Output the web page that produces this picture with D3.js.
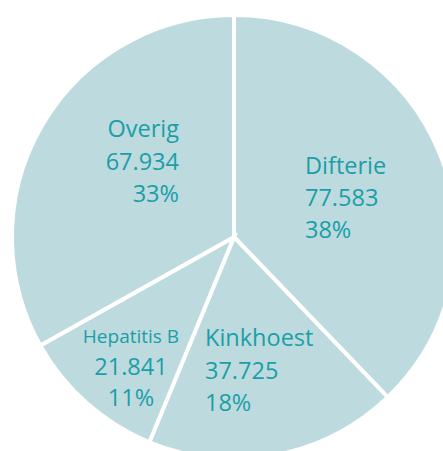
<!DOCTYPE html>
<html>
<head>
<meta charset="utf-8">
<script src="https://cdn.jsdelivr.net/npm/d3@7"></script>
<style>
  html, body { margin: 0; padding: 0; background: #fff; }
  svg { display: block; }
</style>
</head>
<body>
<svg id="chart" width="443" height="451"></svg>
<script>
const categories = ["Difterie", "Kinkhoest", "Hepatitis B", "Overig"];
const values = [77583, 37725, 21841, 67934];

// label layout (positions/styles only)
const labelLayout = {
  "Difterie":    { x: 305, y: 174, anchor: "start",  size: 23.5, gap: 32 },
  "Kinkhoest":   { x: 205, y: 346, anchor: "start",  size: 23.5, gap: 32.5 },
  "Hepatitis B": { x: 131, y: 343, anchor: "middle", size: 19, gap: 31.5, numSize: 23.5 },
  "Overig":      { x: 179, y: 137, anchor: "end",    size: 23.5, gap: 32.5 }
};

const fillColor = "#bddadf";
const textColor = "#1a9fa7";

const svg = d3.select("#chart");
const cx = 234, cy = 237, r = 222;

const total = d3.sum(values);
const data = categories.map((c, i) => ({ cat: c, value: values[i] }));

const pie = d3.pie().value(d => d.value).sort(null).startAngle(0).endAngle(2 * Math.PI);
const arc = d3.arc().innerRadius(0).outerRadius(r);

const g = svg.append("g").attr("transform", `translate(${cx},${cy})`);
g.selectAll("path")
  .data(pie(data))
  .join("path")
  .attr("d", arc)
  .attr("fill", fillColor)
  .attr("stroke", "#fff")
  .attr("stroke-width", 4)
  .attr("stroke-linejoin", "miter");

const nl = d3.formatLocale({ decimal: ",", thousands: ".", grouping: [3], currency: ["€", ""] });
const fmt = nl.format(",d");

const labels = svg.append("g")
  .attr("font-family", "'Open Sans', 'Noto Sans', sans-serif")
  .attr("fill", textColor);

data.forEach(d => {
  const L = labelLayout[d.cat];
  const t = labels.append("text")
    .attr("text-anchor", L.anchor)
    .attr("font-size", L.size);
  const lines = [d.cat, fmt(d.value), Math.round(d.value / total * 100) + "%"];
  lines.forEach((s, i) => {
    t.append("tspan")
      .attr("x", L.x)
      .attr("y", L.y + i * L.gap)
      .attr("font-size", i > 0 && L.numSize ? L.numSize : L.size)
      .text(s);
  });
});
</script>
</body>
</html>
